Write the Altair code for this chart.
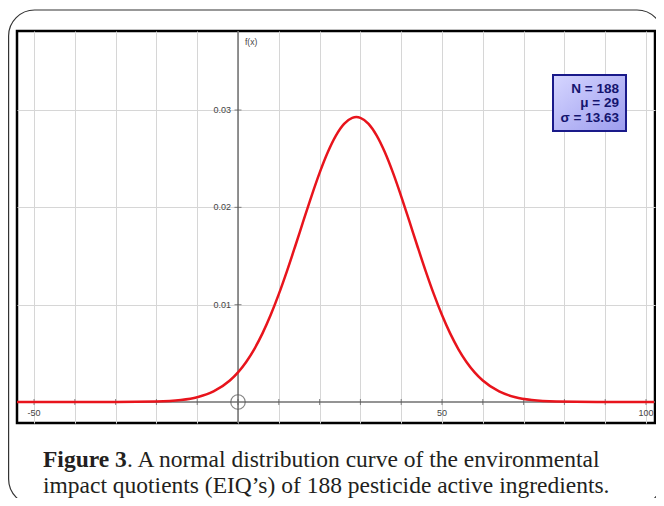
import altair as alt
import pandas as pd

# ---- data ----
N = 188
mu = 29
sigma = 13.63

curve_x = [-55, -40, -30, -20, -14, -10, -6, -2, 0, 2, 4, 6, 8, 10, 12, 14, 16, 18, 20,
           22, 24, 26, 28, 29, 30, 32, 34, 36, 38, 40, 42, 44, 46, 48, 50, 52, 54, 56,
           58, 60, 64, 68, 72, 78, 88, 102]
curve_y = [0.0, 0.0, 0.0000025, 0.0000457, 0.000202, 0.000488, 0.001083, 0.002204,
           0.003044, 0.004115, 0.005444, 0.007048, 0.008933, 0.011079, 0.013447,
           0.015976, 0.018572, 0.021133, 0.023536, 0.025652, 0.027365, 0.028570,
           0.029191, 0.029270, 0.029191, 0.028570, 0.027365, 0.025652, 0.023536,
           0.021133, 0.018572, 0.015976, 0.013447, 0.011079, 0.008933, 0.007048,
           0.005444, 0.004115, 0.003044, 0.002204, 0.001083, 0.000488, 0.000202,
           0.0000457, 0.0000025, 0.0]

grid_x = list(range(-50, 101, 10))
grid_y = [0.01, 0.02, 0.03]
x_label_values = [-50, 50, 100]
x_label_text = ["-50", "50", "100"]
y_label_text = ["0.01", "0.02", "0.03"]
y_axis_title = "f(x)"
legend_lines = [f"N = {N}", f"\u03bc = {mu}", f"\u03c3 = {sigma}"]
caption_bold = "Figure 3"
caption_rest = ". A normal distribution curve of the environmental"
caption_line2 = "impact quotients (EIQ\u2019s) of 188 pesticide active ingredients."

# ---- scales ----
xs = alt.Scale(domain=[-54.17, 102.21], nice=False, zero=False)
ys = alt.Scale(domain=[-0.0021575, 0.038116], nice=False, zero=False)

curve_df = pd.DataFrame({"x": curve_x, "y": curve_y})
one = alt.Data(values=[{}])

grid = alt.Chart(curve_df).mark_line(opacity=0).encode(
    x=alt.X("x:Q", scale=xs, axis=alt.Axis(values=grid_x, grid=True, gridColor="#d6d6d6",
                                           gridWidth=1, labels=False, ticks=False,
                                           domain=False, title=None)),
    y=alt.Y("y:Q", scale=ys, axis=alt.Axis(values=grid_y, grid=True, gridColor="#d6d6d6",
                                           gridWidth=1, labels=False, ticks=False,
                                           domain=False, title=None)),
)

axis_color = "#707070"
vrule = alt.Chart(pd.DataFrame({"x": [0]})).mark_rule(color=axis_color, strokeWidth=1.5).encode(
    x=alt.X("x:Q", scale=xs))
hrule = alt.Chart(pd.DataFrame({"y": [0]})).mark_rule(color=axis_color, strokeWidth=1.5).encode(
    y=alt.Y("y:Q", scale=ys))

xticks = alt.Chart(pd.DataFrame({"x": grid_x})).mark_tick(
    orient="vertical", size=6, thickness=1, color="#555").encode(
    x=alt.X("x:Q", scale=xs), y=alt.datum(0))
yticks = alt.Chart(pd.DataFrame({"y": grid_y})).mark_tick(
    orient="horizontal", size=7, thickness=1, color="#555").encode(
    y=alt.Y("y:Q", scale=ys), x=alt.datum(0))

xlabels = alt.Chart(pd.DataFrame({"x": x_label_values, "t": x_label_text})).mark_text(
    font="Liberation Sans", fontSize=9, color="#444", baseline="middle", dy=11).encode(
    x=alt.X("x:Q", scale=xs), y=alt.datum(0), text="t:N")
ylabels = alt.Chart(pd.DataFrame({"y": grid_y, "t": y_label_text})).mark_text(
    font="Liberation Sans", fontSize=9, color="#444", baseline="middle", align="right", dx=-7).encode(
    y=alt.Y("y:Q", scale=ys), x=alt.datum(0), text="t:N")
ytitle = alt.Chart(one).mark_text(
    font="Liberation Sans", fontSize=8.5, color="#444", baseline="middle", align="left", dx=7).encode(
    x=alt.datum(0), y=alt.value(11), text=alt.value(y_axis_title))

origin = alt.Chart(pd.DataFrame({"x": [0], "y": [0]})).mark_point(
    shape="circle", size=210, filled=False, color="#555", strokeWidth=1.2).encode(
    x=alt.X("x:Q", scale=xs), y=alt.Y("y:Q", scale=ys))

curve = alt.Chart(curve_df).mark_line(color="#e8141c", strokeWidth=2.5,
                                       interpolate="monotone", clip=True).encode(
    x=alt.X("x:Q", scale=xs), y=alt.Y("y:Q", scale=ys))

box = alt.Chart(one).mark_rect(
    fill=alt.LinearGradient(gradient="linear",
                            stops=[alt.GradientStop(offset=0, color="#d6d6ff"),
                                   alt.GradientStop(offset=1, color="#9c9cee")],
                            x1=0, y1=0, x2=1, y2=1),
    stroke="#1a1a8a", strokeWidth=2).encode(
    x=alt.value(536), x2=alt.value(609), y=alt.value(44), y2=alt.value(100))

legend_layers = []
for line, yy in zip(legend_lines, [58, 72, 87]):
    legend_layers.append(alt.Chart(one).mark_text(
        font="Liberation Sans", fontSize=13.5, fontWeight="bold", color="#14146e", align="right",
        baseline="middle").encode(x=alt.value(602), y=alt.value(yy), text=alt.value(line)))

cap_font = "Liberation Serif"
cap_size = 23.5
cap1a = alt.Chart(one).mark_text(font=cap_font, fontSize=cap_size, fontWeight="bold", color="#231f20",
                                 align="left", baseline="alphabetic").encode(
    x=alt.value(26), y=alt.value(436), text=alt.value(caption_bold))
cap1b = alt.Chart(one).mark_text(font=cap_font, fontSize=cap_size, color="#231f20",
                                 align="left", baseline="alphabetic").encode(
    x=alt.value(110), y=alt.value(436), text=alt.value(caption_rest))
cap2 = alt.Chart(one).mark_text(font=cap_font, fontSize=cap_size, color="#231f20",
                                align="left", baseline="alphabetic").encode(
    x=alt.value(26), y=alt.value(462), text=alt.value(caption_line2))

frame = alt.Chart(one).mark_rect(fillOpacity=0, stroke="#333", strokeWidth=1.2,
                                 cornerRadius=26).encode(
    x=alt.value(-8.4), x2=alt.value(646), y=alt.value(-21), y2=alt.value(474))

chart = alt.layer(
    grid, vrule, hrule, xticks, yticks, curve, origin, xlabels, ylabels, ytitle,
    box, *legend_layers, cap1a, cap1b, cap2, frame
).properties(
    width=638, height=392,
    autosize=alt.AutoSizeParams(type="none"),
    padding={"left": 9, "top": 23, "right": 1, "bottom": 75},
    background="white",
).configure_view(stroke="black", strokeWidth=2.5)

chart.save("out.html", embed_options={"renderer": "svg", "actions": False})
